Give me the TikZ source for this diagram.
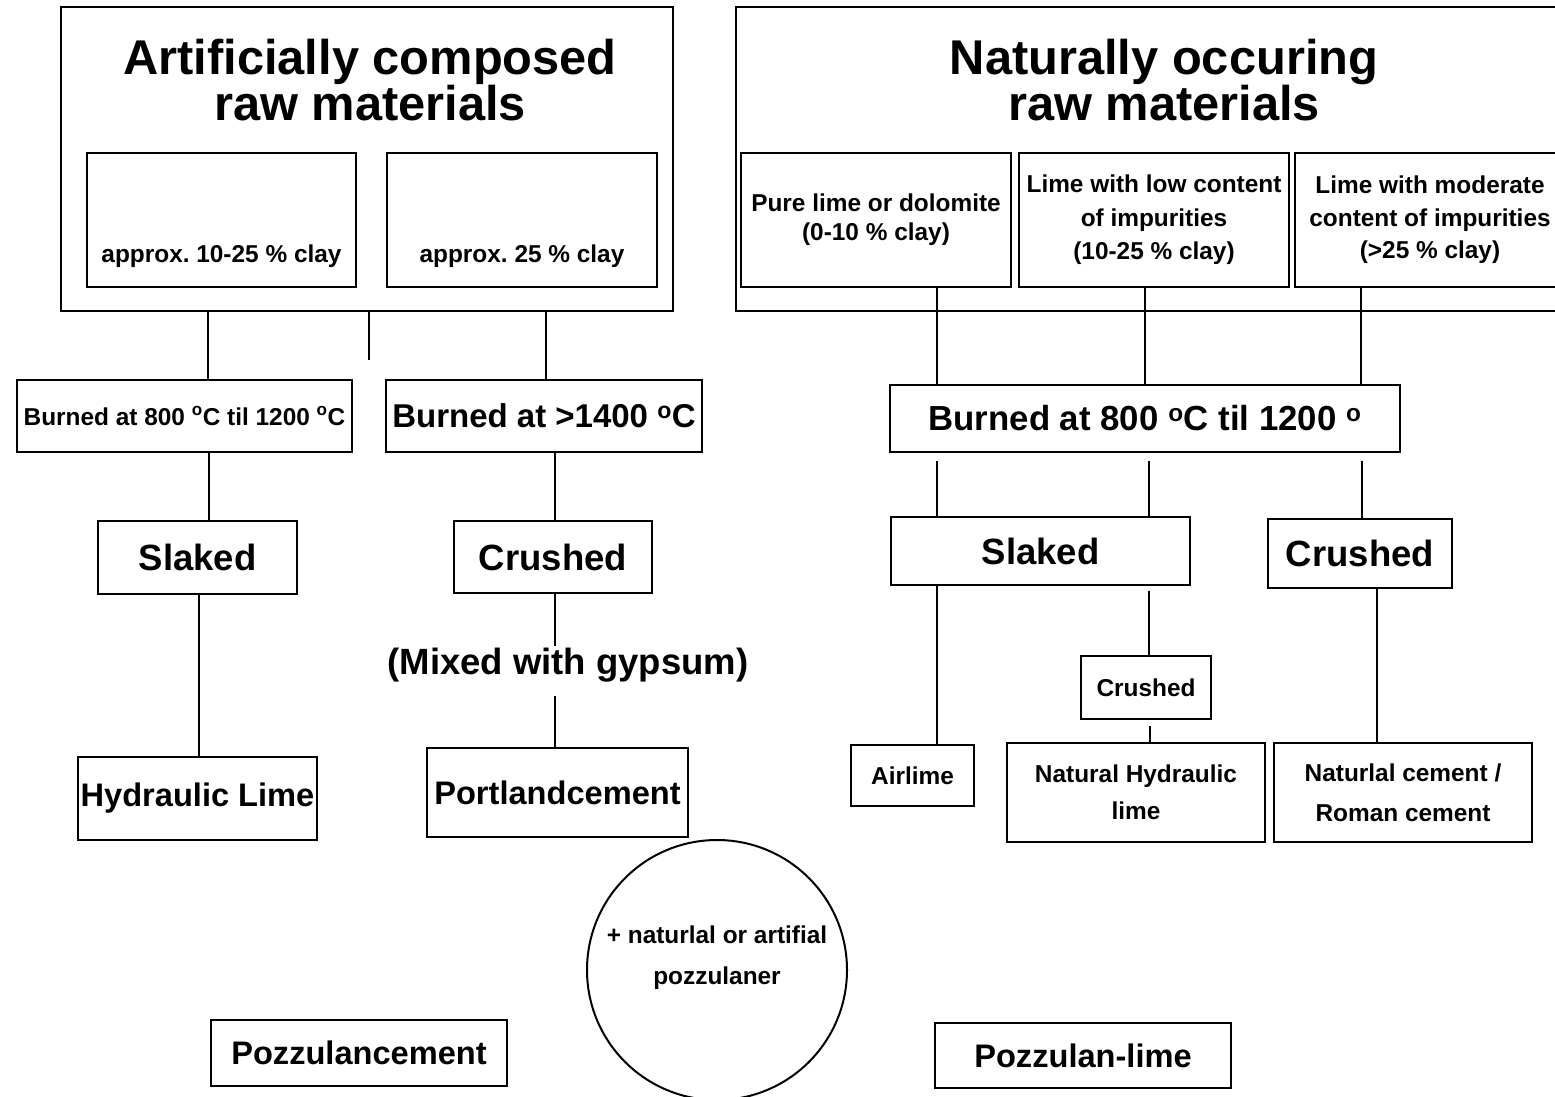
\documentclass[tikz,border=0pt]{standalone}
\usepackage{fontspec}
\setmainfont{Liberation Sans}
\usetikzlibrary{positioning}

\newcommand{\txtsize}[2]{\fontsize{#1}{#2}\selectfont\bfseries}

\begin{document}
\frenchspacing
\begin{tikzpicture}[x=1pt, y=-1pt,
  box/.style={draw, line width=2pt, inner sep=0pt, align=center},
  link/.style={line width=1.5pt},
  smallTxt/.style={font=\txtsize{24.4}{30}},
  midTxt/.style={font=\txtsize{32.6}{38}},
  bigTxt/.style={font=\txtsize{36.5}{42}},
  titleTxt/.style={font=\txtsize{48.8}{46}, align=center}]

  \useasboundingbox (0,0) rectangle (1555,1096);
  \clip (0,0) rectangle (1555,1096);

  % artificial raw materials
  \node (artBox) [box, minimum width=612pt, minimum height=304pt] at (367,159) {};
  \node (artTitle) [titleTxt] at (370,80) {Artificially composed\\raw materials};
  \node (clayA) [box, smallTxt, minimum width=269pt, text height=109pt, text depth=25pt] at (221.5,220) {approx.\ 10-25 \% clay};
  \node (clayB) [box, smallTxt, minimum width=270pt, text height=109pt, text depth=25pt, right of=clayA, node distance=300.5pt] {approx.\ 25 \% clay};
  \coordinate (stub) at (369,360);

  \node (burnA) [box, smallTxt, minimum width=335pt, minimum height=72pt] at (184.5,416) {Burned at 800 \textsuperscript{o}C til 1200 \textsuperscript{o}C};
  \node (burnB) [box, font=\txtsize{33}{38}, minimum width=316pt, minimum height=72pt] at (544,416) {Burned at >1400 \textsuperscript{o}C};
  \node (slakA) [box, bigTxt, minimum width=199pt, minimum height=73pt] at (197.5,557.5) {Slaked};
  \node (crushA) [box, bigTxt, minimum width=198pt, minimum height=72pt] at (553,557) {Crushed};
  \node (gypsum) [bigTxt, inner sep=2pt] at (568,665) {(Mixed with gypsum)};
  \node (hydLime) [box, midTxt, minimum width=239pt, minimum height=83pt] at (197.5,798.5) {Hydraulic Lime};
  \node (portland) [box, midTxt, minimum width=261pt, minimum height=89pt] at (557.5,792.5) {Portlandcement};

  \draw[link] (artBox.south -| 208,0) -- (burnA.north -| 208,0);
  \draw[link] (artBox.south -| stub) -- (stub);
  \draw[link] (artBox.south -| 546,0) -- (burnB.north -| 546,0);
  \draw[link] (burnA.south -| 209,0) -- (slakA.north -| 209,0);
  \draw[link] (burnB.south -| 555,0) -- (crushA.north -| 555,0);
  \draw[link] (slakA.south -| 199,0) -- (hydLime.north -| 199,0);
  \draw[link] (crushA.south -| 555,0) -- (gypsum.north -| 555,0);
  \draw[link] (gypsum.south -| 555,0) ++(0,12) -- (portland.north -| 555,0);

  % naturally occuring raw materials
  \node (natBox) [box, minimum width=829pt, minimum height=304pt] at (1150.5,159) {};
  \node (natTitle) [titleTxt] at (1164,80) {Naturally occuring\\raw materials};
  \node (pure) [box, font=\txtsize{24.4}{29}, minimum width=270pt, minimum height=134pt] at (876,220) {Pure lime or dolomite\\(0-10 \% clay)};
  \node (lowImp) [box, font=\txtsize{24.4}{33.5}, minimum width=270pt, minimum height=134pt, right of=pure, node distance=278pt] {Lime with low content\\of impurities\\(10-25 \% clay)};
  \node (modImp) [box, font=\txtsize{24.4}{32.5}, minimum width=270pt, minimum height=134pt, right of=lowImp, node distance=276pt] {Lime with moderate\\content of impurities\\(>25 \% clay)};

  \node (burnC) [box, font=\txtsize{34.8}{40}, minimum width=510pt, minimum height=67pt] at (1145,418.5) {Burned at 800 \textsuperscript{o}C til 1200 \textsuperscript{o}};
  \node (slakB) [box, bigTxt, minimum width=299pt, minimum height=68pt] at (1040.5,551) {Slaked};
  \node (crushB) [box, bigTxt, minimum width=184pt, minimum height=69pt] at (1360,553.5) {Crushed};
  \node (crushC) [box, smallTxt, minimum width=130pt, minimum height=63pt] at (1146,687.5) {Crushed};
  \node (airlime) [box, smallTxt, minimum width=123pt, minimum height=61pt] at (912.5,775.5) {Airlime};
  \node (natHyd) [box, font=\txtsize{24.4}{37}, minimum width=258pt, minimum height=99pt] at (1136,792.5) {Natural Hydraulic\\lime};
  \node (natCem) [box, font=\txtsize{24.4}{40}, minimum width=258pt, minimum height=99pt] at (1403,792.5) {Naturlal cement /\\Roman cement};

  \draw[link] (pure.south -| 937,0) -- (burnC.north -| 937,0);
  \draw[link] (lowImp.south -| 1145,0) -- (burnC.north -| 1145,0);
  \draw[link] (modImp.south -| 1361,0) -- (burnC.north -| 1361,0);
  \draw[link] (burnC.south -| 937,0) ++(0,8) -- (slakB.north -| 937,0);
  \draw[link] (burnC.south -| 1149,0) ++(0,8) -- (slakB.north -| 1149,0);
  \draw[link] (burnC.south -| 1362,0) ++(0,8) -- (crushB.north -| 1362,0);
  \draw[link] (slakB.south -| 937,0) -- (airlime.north -| 937,0);
  \draw[link] (slakB.south -| 1149,0) ++(0,5) -- (crushC.north -| 1149,0);
  \draw[link] (crushC.south -| 1150,0) ++(0,6) -- (natHyd.north -| 1150,0);
  \draw[link] (crushB.south -| 1377,0) -- (natCem.north -| 1377,0);

  % pozzulan products
  \node (pozzCem) [box, midTxt, minimum width=296pt, minimum height=66pt] at (359,1053) {Pozzulancement};
  \node (pozzLime) [box, midTxt, minimum width=296pt, minimum height=65pt] at (1083,1055.5) {Pozzulan-lime};
  \node (pozz) [draw, circle, line width=2pt, minimum size=260pt,
    label={[font=\txtsize{24.4}{41}, align=center, yshift=12.5pt]center:+ naturlal or artifial\\pozzulaner}] at (717,970) {};
\end{tikzpicture}
\end{document}
